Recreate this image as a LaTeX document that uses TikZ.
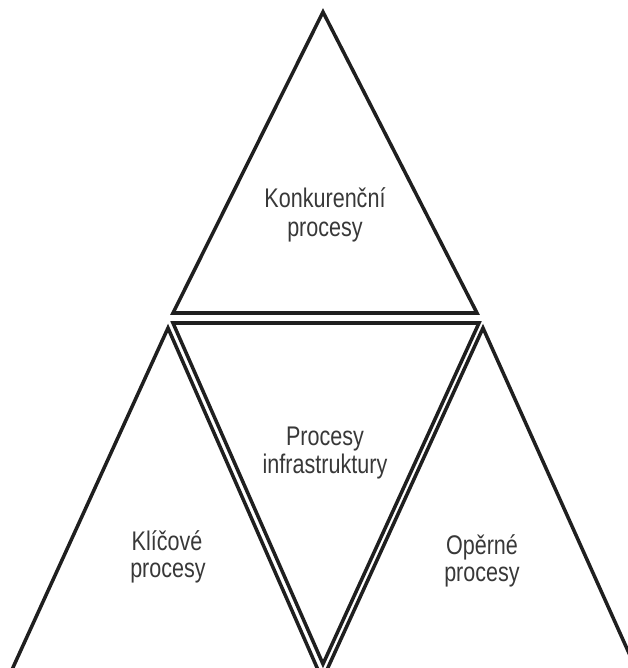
\documentclass[tikz,border=0pt]{standalone}
\usepackage{fontspec}
\setmainfont{Liberation Sans}[FakeStretch=0.8]
\begin{document}
\begin{tikzpicture}[x=0.03cm,y=-0.03cm,
  tri/.style={draw=black!88,line width=3pt,line join=miter,miter limit=20},
  lbl/.style={text=black!78,font=\fontsize{23}{26}\selectfont,align=center,anchor=base,inner sep=0pt}]
\useasboundingbox (0,0) rectangle (628,668);
\clip (0,0) rectangle (628,668);
% top triangle
\draw[tri] (323,12) -- (173,313) -- (477,313) -- cycle;
% middle inverted triangle
\draw[tri] (173,323) -- (479,323) -- (323,664) -- cycle;
% left triangle
\draw[tri] (168,328) -- (340,720) -- (-11,720) -- cycle;
% right triangle
\draw[tri] (483,328) -- (659,720) -- (304,720) -- cycle;
% labels
\node[lbl] (top1) at (325,207) {Konkurenční};
\node[lbl] (top2) at (325,236) {procesy};
\node[lbl] (mid1) at (325,445) {Procesy};
\node[lbl] (mid2) at (325,473) {infrastruktury};
\node[lbl] (l1) at (167,550) {Klíčové};
\node[lbl] (l2) at (168,577) {procesy};
\node[lbl] (r1) at (482,554) {Opěrné};
\node[lbl] (r2) at (482,581) {procesy};
\end{tikzpicture}
\end{document}
